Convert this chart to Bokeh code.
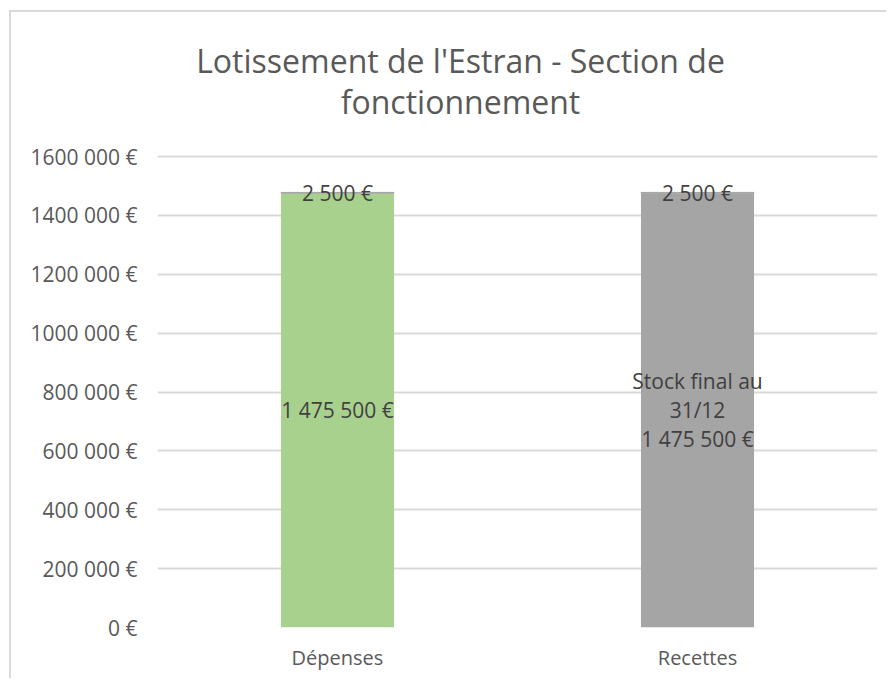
from bokeh.plotting import figure
from bokeh.models import ColumnDataSource, FixedTicker, LabelSet
from bokeh.embed import file_html
from bokeh.resources import INLINE
from bokeh.core.properties import value

# ---- data ----
categories = ["Dépenses", "Recettes"]
main_values = [1475500, 1475500]
top_values = [2500, 2500]
main_colors = ["#A9D18E", "#A5A5A5"]
top_color = "#A5A5A5"
depenses_label = ["1 475 500 €"]
recettes_label_lines = ["Stock final au", "31/12", "1 475 500 €"]
top_labels = ["2 500 €", "2 500 €"]
y_ticks = [0, 200000, 400000, 600000, 800000, 1000000, 1200000, 1400000, 1600000]
y_tick_labels = ["0 €", "200 000 €", "400 000 €", "600 000 €", "800 000 €",
                 "1000 000 €", "1200 000 €", "1400 000 €", "1600 000 €"]
title_lines = ["Lotissement de l'Estran - Section de", "fonctionnement"]

FONT = "Open Sans"

# the value axis stops at 1 600 000 (last tick); the range is extended upward
# only to leave room for the title drawn inside the canvas
Y_TOP = 1600000 * 613 / 471

p = figure(x_range=categories, y_range=(0, Y_TOP), width=877, height=668,
           output_backend="svg", toolbar_location=None, title=None,
           min_border_left=146, min_border_right=11, min_border_top=2,
           min_border_bottom=53)
p.outline_line_color = None
p.background_fill_color = "white"
p.border_fill_color = "white"

tops = [m + t for m, t in zip(main_values, top_values)]
src = ColumnDataSource(dict(
    x=categories, main=main_values, top=tops, base=main_values,
    color=main_colors,
    top_mid=[m + t / 2 for m, t in zip(main_values, top_values)],
    top_label=top_labels,
))

p.vbar(x="x", top="main", bottom=0, width=0.314, fill_color="color",
       line_color=None, source=src)
p.vbar(x="x", top="top", bottom="base", width=0.314, fill_color=top_color,
       line_color=top_color, line_width=1, source=src)

# labels in the middle of the main segments
n_lines = len(recettes_label_lines)
mid_src = ColumnDataSource(dict(
    x=[categories[0]] + [categories[1]] * n_lines,
    y=[main_values[0] / 2] + [main_values[1] / 2] * n_lines,
    text=depenses_label + recettes_label_lines,
    yoff=[0] + [29 * ((n_lines - 1) / 2 - i) for i in range(n_lines)],
))
p.add_layout(LabelSet(x="x", y="y", text="text", y_offset="yoff", source=mid_src,
                      text_align="center", text_baseline="middle",
                      text_font=value(FONT), text_font_size="21px",
                      text_color="#404040"))
p.add_layout(LabelSet(x="x", y="top_mid", text="top_label", source=src,
                      text_align="center", text_baseline="middle",
                      text_font=value(FONT), text_font_size="21px",
                      text_color="#404040"))

# axes
p.yaxis.ticker = FixedTicker(ticks=y_ticks)
p.yaxis.major_label_overrides = {t: l for t, l in zip(y_ticks, y_tick_labels)}
for ax in (p.xaxis, p.yaxis):
    ax.axis_line_color = None
    ax.major_tick_line_color = None
    ax.minor_tick_line_color = None
    ax.major_tick_out = 0
    ax.major_tick_in = 0
    ax.major_label_text_font = FONT
    ax.major_label_text_color = "#595959"
p.yaxis.major_label_text_font_size = "21px"
p.xaxis.major_label_text_font_size = "20px"
p.yaxis.major_label_standoff = 20
p.xaxis.major_label_standoff = 16

p.xgrid.grid_line_color = None
p.ygrid.grid_line_color = "#D9D9D9"
p.ygrid.grid_line_width = 2

# two-line chart title
title_src = ColumnDataSource(dict(
    x=[categories[0], categories[0]],
    y=[1600000 * 567 / 471, 1600000 * 526 / 471],
    text=title_lines,
))
p.text(x="x", y="y", text="text", source=title_src, x_offset=123,
       text_align="center", text_baseline="middle", text_font=value(FONT),
       text_font_size="32px", text_color="#595959")

p.styles = {"border-top": "2px solid #D9D9D9", "border-left": "2px solid #D9D9D9",
            "margin-left": "9px", "margin-top": "10px"}

open("out.html", "w").write(file_html(p, INLINE))
